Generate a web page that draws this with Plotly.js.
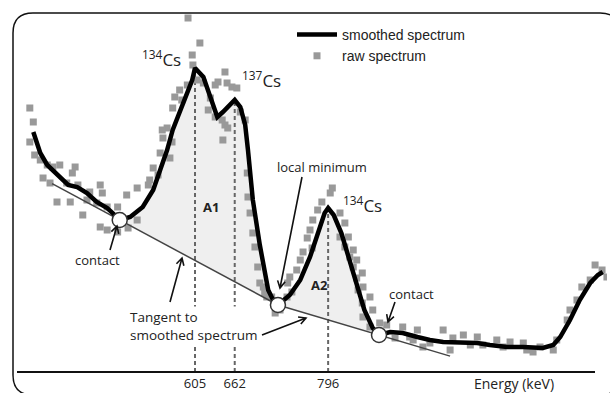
<!DOCTYPE html>
<html><head><meta charset="utf-8">
<script src="https://cdn.plot.ly/plotly-3.0.1.min.js"></script>
<style>html,body{margin:0;padding:0;background:#fff}#chart{width:610px;height:393px}</style>
</head><body><div id="chart"></div>
<script>
// Smoothed spectrum (energy keV, counts in arbitrary units)
const smoothE = [373,383,393,407,423,436,450,464,479,490,497,512,530,545,555,565,573,586,594,601,605,617,627,637,645,662,670,677,681,688,698,710,717,724,741,756,770,784,791,796,804,815,826,839,848,860,869,885,903,924,942,961,990,1010,1028,1053,1076,1104,1119,1129,1143,1157,1172,1183,1190];
const smoothC = [2400,2190,2070,1970,1870,1850,1790,1700,1640,1570,1520,1550,1650,1820,2020,2220,2420,2650,2800,2920,3040,2950,2750,2550,2600,2720,2650,2470,2220,1720,1270,820,720,670,770,920,1150,1450,1590,1640,1570,1390,1120,820,620,440,370,400,390,350,320,300,300,290,270,250,250,240,270,350,520,720,890,970,1000];
// Raw spectrum
const rawE = [368,373,368,375,383,393,401,411,433,429,387,397,421,437,454,469,472,407,426,450,464,444,479,494,469,479,494,509,522,507,522,538,540,552,545,555,569,559,572,565,573,576,595,612,601,602,648,638,651,658,665,634,617,608,594,583,586,627,624,634,644,648,652,670,677,645,558,680,681,684,688,691,695,698,705,715,720,727,703,708,737,744,738,741,751,756,760,773,766,770,774,781,787,799,802,813,820,813,825,820,832,827,837,832,845,837,846,839,856,845,860,846,870,856,880,892,903,913,918,924,932,942,961,971,975,990,1000,1010,1018,1038,1047,1057,1076,1081,1090,1100,1119,1124,1139,1143,1153,1160,1172,1179,1189,1196];
const rawC = [2640,2500,2300,2170,2120,2070,2050,2070,2050,1990,1940,1890,1890,1870,1800,1870,1790,1700,1700,1720,1690,1570,1650,1650,1450,1420,1400,1440,1520,1770,1840,1870,1920,1970,2040,2190,2140,2340,2300,2440,2640,2750,3540,3290,3170,3070,3000,2900,2890,2850,2840,2870,2890,2920,2870,2820,2720,2740,2620,2550,2520,2470,2440,2600,2520,2320,2420,1990,1750,1590,1390,1250,1050,890,790,750,590,620,850,750,750,800,890,950,1020,1120,1200,1240,1340,1420,1520,1620,1700,1790,1840,1590,1490,1350,1350,1250,1220,1150,1120,1050,990,940,850,820,750,690,620,550,490,450,470,340,450,350,320,420,250,290,420,220,340,370,270,350,270,320,250,300,290,220,200,250,220,320,520,620,720,850,920,1070,1020,950];
// Peaks
const peakE = [605, 662, 796];
const peakTickText = ['605', '662', '796'];
// Contact points: contact, local minimum, contact
const contactE = [497, 724, 869];
// Where the drawn tangent lines start / end
const tangentExtentE = [400, 971];

function countAt(e) {
  for (let i = 0; i < smoothE.length - 1; i++) {
    if (e >= smoothE[i] && e <= smoothE[i + 1]) {
      const t = (e - smoothE[i]) / (smoothE[i + 1] - smoothE[i]);
      return smoothC[i] + t * (smoothC[i + 1] - smoothC[i]);
    }
  }
  return smoothC[smoothC.length - 1];
}
function lineThrough(e0, e1, e) {
  const c0 = countAt(e0), c1 = countAt(e1);
  return c0 + (c1 - c0) * (e - e0) / (e1 - e0);
}
function segment(a, b) {
  const xs = [], ys = [];
  for (let i = 0; i < smoothE.length; i++) {
    if (smoothE[i] >= a && smoothE[i] <= b) { xs.push(smoothE[i]); ys.push(smoothC[i]); }
  }
  return {xs, ys};
}

const traces = [];
const fillCol = '#efefef';
// Area A1 and A2 fills
[[contactE[0], contactE[1]], [contactE[1], contactE[2]]].forEach(([a, b]) => {
  traces.push({x: [a, b], y: [countAt(a), countAt(b)], mode: 'lines', line: {width: 0}, showlegend: false, hoverinfo: 'skip'});
  const s = segment(a, b);
  traces.push({x: s.xs, y: s.ys, mode: 'lines', line: {width: 0}, fill: 'tonexty', fillcolor: fillCol, showlegend: false, hoverinfo: 'skip'});
});
// Dashed peak lines
peakE.forEach(e => {
  traces.push({x: [e, e], y: [0, countAt(e)], mode: 'lines', line: {color: '#666', width: 2, dash: '4px,3px'}, showlegend: false, hoverinfo: 'skip'});
});
// Raw spectrum
traces.push({x: rawE, y: rawC, mode: 'markers', name: 'raw spectrum',
  marker: {symbol: 'square', size: 7, color: '#999999'}});
// Tangent lines
traces.push({x: [tangentExtentE[0], contactE[1]],
  y: [lineThrough(contactE[0], contactE[1], tangentExtentE[0]), countAt(contactE[1])],
  mode: 'lines', line: {color: '#444', width: 1.5}, showlegend: false, hoverinfo: 'skip'});
traces.push({x: [contactE[1], tangentExtentE[1]],
  y: [countAt(contactE[1]), lineThrough(contactE[1], contactE[2], tangentExtentE[1])],
  mode: 'lines', line: {color: '#444', width: 1.5}, showlegend: false, hoverinfo: 'skip'});
// Smoothed spectrum
traces.push({x: smoothE, y: smoothC, mode: 'lines', name: 'smoothed spectrum',
  line: {color: '#000', width: 4.5}});
// Contact circles
traces.push({x: contactE, y: contactE.map(countAt), mode: 'markers', showlegend: false, hoverinfo: 'skip',
  marker: {symbol: 'circle', size: 15, color: '#fff', line: {color: '#333', width: 1.5}}});

// pixel -> paper helpers for layout decorations
const X0 = 15, W = 592, Y0 = 372, H = 359;
const px = x => (x - X0) / W;
const py = y => (Y0 - y) / H;
function P(x, y) { return px(x) + ',' + py(y); }
const calib = 'Open Sans, Noto Sans, sans-serif';

function txt(text, x, y, size, extra) {
  return Object.assign({text, x: px(x), y: py(y), xref: 'paper', yref: 'paper', showarrow: false,
    xanchor: 'center', yanchor: 'middle',
    font: {family: calib, size, color: '#222'}}, extra || {});
}
const annotations = [
  txt('<sup>134</sup>Cs', 161, 59, 17),
  txt('<sup>137</sup>Cs', 261, 79, 17),
  txt('<sup>134</sup>Cs', 362, 204, 17),
  txt('<b>A1</b>', 211, 207, 13),
  txt('<b>A2</b>', 319, 285, 13),
  txt('local minimum', 322, 167, 13),
  txt('contact', 97, 260, 13),
  txt('contact', 411, 294, 13),
  txt('Tangent to<br>smoothed spectrum', 128, 326, 13.5, {xanchor: 'left', align: 'left', bgcolor: '#fff'}),
  txt('Energy (keV)', 514, 383, 14)
];

// Arrows as shapes: [tailX, tailY, headX, headY] in pixels
const arrows = [[110, 250, 117, 226], [170, 302, 182, 258], [262, 335, 306, 318], [302, 177, 280, 288], [395, 302, 388, 322]];
function arrowPath(a) {
  const [tx, ty, hx, hy] = a;
  const dx = hx - tx, dy = hy - ty, len = Math.hypot(dx, dy);
  const ux = dx / len, uy = dy / len, L = 8, ang = 0.5;
  const w = s => {
    const c = Math.cos(s * ang), sn = Math.sin(s * ang);
    const rx = ux * c - uy * sn, ry = ux * sn + uy * c;
    return P(hx - rx * L, hy - ry * L);
  };
  return 'M' + P(tx, ty) + ' L' + P(hx, hy) + ' M' + w(1) + ' L' + P(hx, hy) + ' L' + w(-1);
}

// Rounded frame
const L = 13, T = 13, R = 620, B = 395, r = 20;
const framePath = 'M' + P(L, B - r) + ' L' + P(L, T + r) + ' Q' + P(L, T) + ' ' + P(L + r, T) +
  ' L' + P(R - r, T) + ' Q' + P(R, T) + ' ' + P(R, T + r) + ' L' + P(R, B - r) +
  ' Q' + P(R, B) + ' ' + P(R - r, B) + ' L' + P(L + r, B) + ' Q' + P(L, B) + ' ' + P(L, B - r) + ' Z';

const shapes = [
  {type: 'line', xref: 'paper', yref: 'paper', x0: px(17), x1: px(595), y0: 0, y1: 0, line: {color: '#111', width: 2}},
  {type: 'path', xref: 'paper', yref: 'paper', path: framePath, line: {color: '#111', width: 1.5}}
].concat(arrows.map(a => ({type: 'path', xref: 'paper', yref: 'paper', path: arrowPath(a), line: {color: '#111', width: 1.6}})));

const layout = {
  width: 610, height: 393,
  margin: {l: X0, r: 610 - X0 - W, t: 13, b: 393 - Y0, pad: 0},
  paper_bgcolor: '#fff', plot_bgcolor: '#fff',
  showlegend: true,
  legend: {x: px(292), y: py(19), xanchor: 'left', yanchor: 'top', bgcolor: 'rgba(0,0,0,0)', traceorder: 'reversed',
    font: {family: 'Liberation Sans, Arial, sans-serif', size: 14, color: '#222'}, itemwidth: 40, tracegroupgap: 0},
  xaxis: {range: [346.75, 1196.1], showgrid: false, zeroline: false, showline: false, ticks: '',
    tickmode: 'array', tickvals: peakE, ticktext: peakTickText, ticklabelstandoff: 2,
    tickfont: {family: calib, size: 13, color: '#222'}, fixedrange: true},
  yaxis: {range: [0, 3590], visible: false, fixedrange: true},
  shapes,
  annotations
};
Plotly.newPlot('chart', traces, layout, {displayModeBar: false, staticPlot: true});
</script>
</body></html>
